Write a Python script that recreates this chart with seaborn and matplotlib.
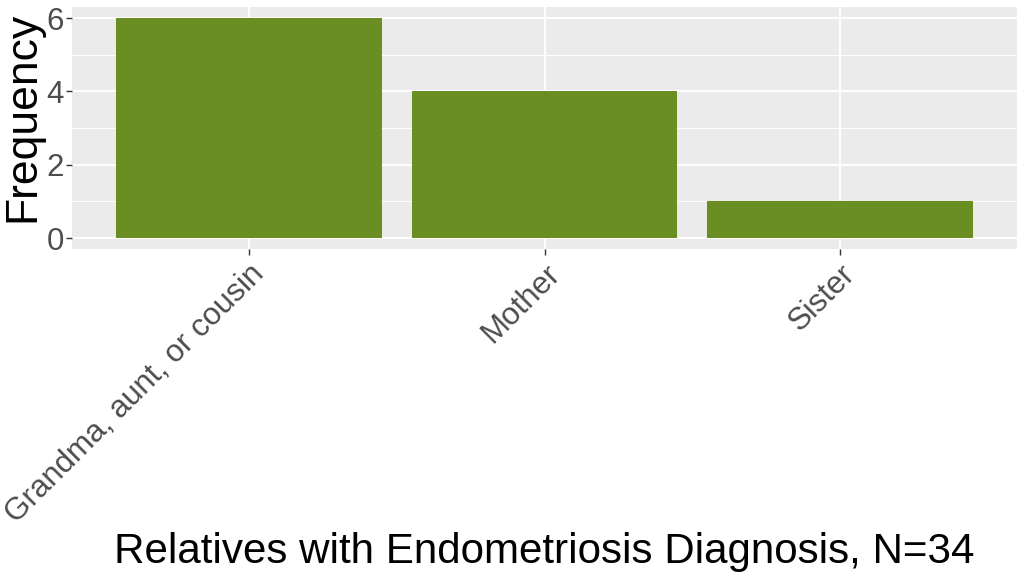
import matplotlib
matplotlib.use("Agg")
import matplotlib.pyplot as plt
import seaborn as sns
import pandas as pd
from matplotlib.ticker import MultipleLocator

categories = ["Grandma, aunt, or cousin", "Mother", "Sister"]
frequency = [6, 4, 1]
y_ticks = [0, 2, 4, 6]

df = pd.DataFrame({"relative": categories, "freq": frequency})

sns.set_theme(style="darkgrid")
plt.rcParams["font.family"] = ["Liberation Sans", "DejaVu Sans"]

fig = plt.figure(figsize=(10.24, 5.73), dpi=100)
ax = fig.add_axes([72/1024, 1-249/573, (1017-72)/1024, (249-7)/573])
ax.set_facecolor("#EBEBEB")

sns.barplot(data=df, x="relative", y="freq", color="#6B8E23", saturation=1,
            width=0.9, ax=ax, edgecolor="none")

ax.set_xlim(-0.6, 2.6)
ax.set_ylim(-0.3, 6.3)
ax.set_yticks(y_ticks)
ax.yaxis.set_minor_locator(MultipleLocator(1))
ax.grid(which="major", color="white", linewidth=1.4)
ax.grid(which="minor", axis="y", color="white", linewidth=0.7)
ax.set_axisbelow(True)
for s in ax.spines.values():
    s.set_visible(False)

ax.tick_params(axis="both", which="major", length=4, width=1, color="#333333",
               labelsize=22.5, labelcolor="#4D4D4D", pad=3, bottom=True, left=True)
ax.tick_params(axis="y", which="major", pad=2)
ax.tick_params(axis="both", which="minor", length=0)
plt.setp(ax.get_xticklabels(), rotation=45, ha="right", va="top",
         rotation_mode="anchor")

ax.set_xlabel("Relatives with Endometriosis Diagnosis, N=34", fontsize=30.3,
              color="black", va="baseline")
ax.xaxis.set_label_coords(0.5, (249 - 563) / 242)
ax.set_ylabel("Frequency", fontsize=32, color="black", va="center", ha="center")
ax.yaxis.set_label_coords((23 - 72) / 945, (249 - 116.5) / 242)

fig.savefig("out.png", dpi=100, facecolor="white")
